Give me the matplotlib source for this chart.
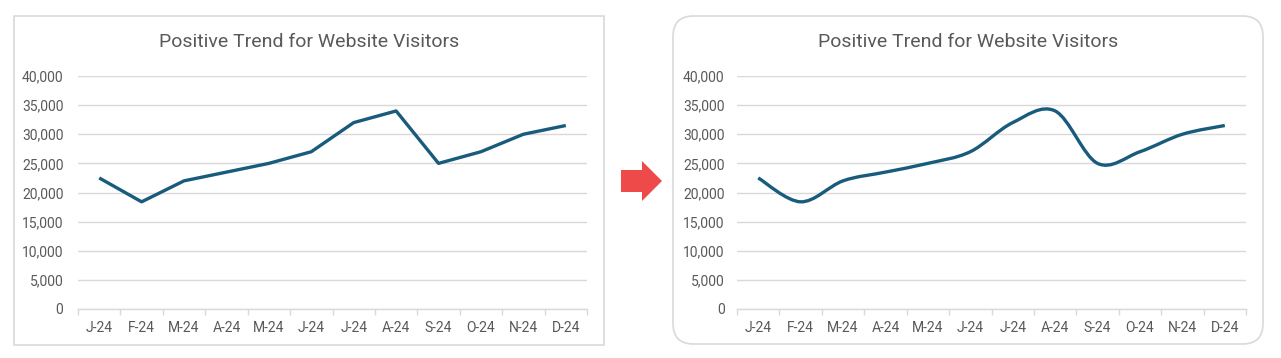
import matplotlib
matplotlib.use("Agg")
import matplotlib.pyplot as plt
import numpy as np
from matplotlib.patches import Rectangle, FancyBboxPatch, Polygon, PathPatch
from matplotlib.path import Path
from matplotlib.ticker import FuncFormatter, FixedLocator

months = ["J-24", "F-24", "M-24", "A-24", "M-24", "J-24",
          "J-24", "A-24", "S-24", "O-24", "N-24", "D-24"]
visitors = [22500, 18400, 22000, 23500, 25000, 27000,
            32000, 34000, 25000, 27000, 30000, 31500]
title = "Positive Trend for Website Visitors"
yticks = [0, 5000, 10000, 15000, 20000, 25000, 30000, 35000, 40000]

W, H = 1281, 358
fig = plt.figure(figsize=(W / 100, H / 100), dpi=100)
fig.patch.set_facecolor("white")

LINE = "#185b7c"
GRID = "#d9d9d9"
TXT = "#595959"
FAM = ["Roboto", "DejaVu Sans"]


def px_axes(x0, x1, ytop, ybot):
    return fig.add_axes([x0 / W, (H - ybot) / H, (x1 - x0) / W, (ybot - ytop) / H])


def style(ax, tsize, ypad):
    ax.set_xlim(-0.5, len(months) - 0.5)
    ax.set_ylim(0, 40000)
    ax.set_yticks(yticks)
    ax.yaxis.set_major_formatter(FuncFormatter(lambda v, p: f"{int(v):,}"))
    ax.set_xticks(range(len(months)))
    ax.set_xticklabels(months)
    ax.xaxis.set_minor_locator(FixedLocator(np.arange(-0.5, len(months), 1.0)))
    ax.tick_params(axis="x", which="major", length=0, pad=9, labelsize=tsize, labelcolor=TXT)
    ax.tick_params(axis="x", which="minor", length=4, width=1, color=GRID, direction="out")
    ax.tick_params(axis="y", length=0, pad=ypad, labelsize=tsize, labelcolor=TXT)
    for lab in ax.get_xticklabels() + ax.get_yticklabels():
        lab.set_family(FAM)
    ax.grid(axis="y", color=GRID, linewidth=1)
    ax.set_axisbelow(True)
    for s in ["top", "right", "left"]:
        ax.spines[s].set_visible(False)
    ax.spines["bottom"].set_color(GRID)
    ax.spines["bottom"].set_linewidth(1)
    ax.patch.set_alpha(0)


# panel borders
fig.patches.append(Rectangle((13.5 / W, (H - 345) / H), (604 - 13.5) / W, (345 - 16) / H,
                             transform=fig.transFigure, fill=False, edgecolor=GRID, linewidth=1.2))
fig.patches.append(FancyBboxPatch((673 / W, (H - 344) / H), (1263 - 673) / W, (344 - 16) / H,
                                  boxstyle="round,pad=0,rounding_size=0.016",
                                  mutation_aspect=W / H,
                                  transform=fig.transFigure, fill=False, edgecolor=GRID, linewidth=1.2))

# arrow
arrow_px = [(621, 170), (642, 170), (642, 161), (662, 181), (642, 201), (642, 192), (621, 192)]
fig.patches.append(Polygon([(x / W, (H - y) / H) for x, y in arrow_px], closed=True,
                           transform=fig.transFigure, facecolor="#ee4a4a", edgecolor="none"))

# left chart: straight lines
ax1 = px_axes(78, 587, 76, 309)
style(ax1, 10, 10.5)
ax1.plot(range(len(months)), visitors, color=LINE, linewidth=2.4, solid_capstyle="butt")
fig.text(309.5 / W, (H - 42) / H, title, ha="center", va="center", fontsize=14,
         color=TXT, family=FAM)

# right chart: smoothed line (Bezier through data points)
ax2 = px_axes(737, 1246, 76, 309)
style(ax2, 10, 9)
xs = np.arange(len(months), dtype=float)
ys = np.array(visitors, dtype=float)
verts = [(xs[0], ys[0])]
codes = [Path.MOVETO]
n = len(xs)
for i in range(n - 1):
    p0 = (xs[max(i - 1, 0)], ys[max(i - 1, 0)])
    p1 = (xs[i], ys[i])
    p2 = (xs[i + 1], ys[i + 1])
    p3 = (xs[min(i + 2, n - 1)], ys[min(i + 2, n - 1)])
    c1 = (p1[0] + (p2[0] - p0[0]) / 6, p1[1] + (p2[1] - p0[1]) / 6)
    c2 = (p2[0] - (p3[0] - p1[0]) / 6, p2[1] - (p3[1] - p1[1]) / 6)
    verts += [c1, c2, p2]
    codes += [Path.CURVE4] * 3
ax2.add_patch(PathPatch(Path(verts, codes), facecolor="none", edgecolor=LINE,
                        linewidth=2.4, capstyle="butt"))
fig.text(968 / W, (H - 42) / H, title, ha="center", va="center", fontsize=14,
         color=TXT, family=FAM)

fig.savefig("out.png", dpi=100, facecolor="white")
